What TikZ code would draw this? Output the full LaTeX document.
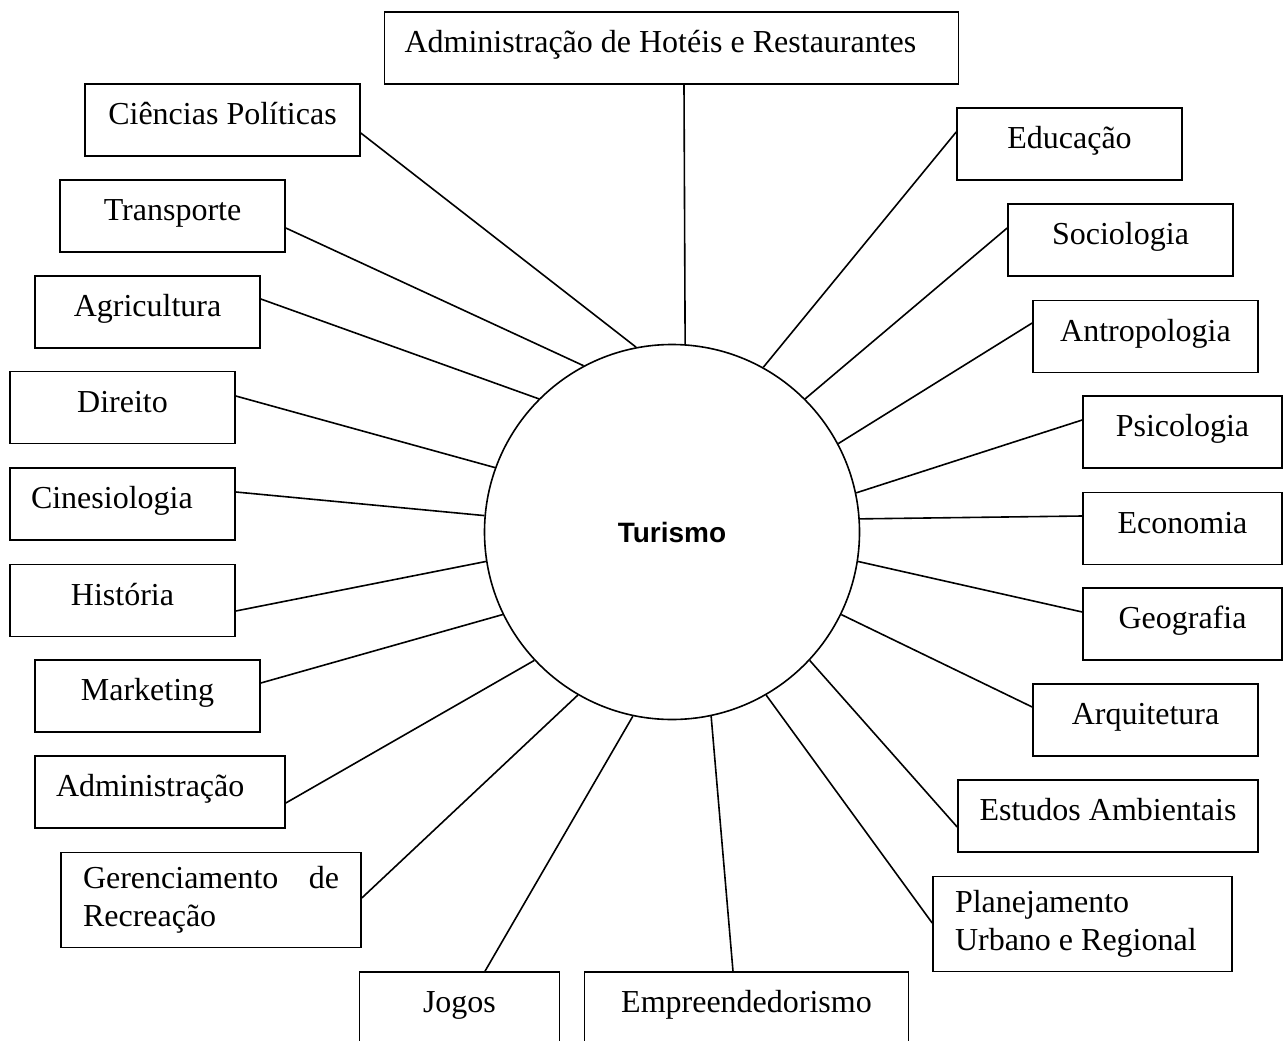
\documentclass[tikz,border=0pt]{standalone}
\usepackage{fontspec}
\setmainfont{Liberation Serif}
\setsansfont{Liberation Sans}

\begin{document}
\begin{tikzpicture}[x=1pt,y=-1pt,line width=1.6pt,
  font=\fontsize{32}{38}\selectfont,
  box/.style={draw,inner sep=0pt,minimum width=#1,minimum height=72pt,
    text height=22pt,text depth=13pt},
  flush/.style={text width=#1,align=flush left},
  twoline/.style={draw,inner sep=0pt,minimum width=#1,minimum height=95pt,
    text width=#1-44pt,align=flush left}]
\clip (0,0) rectangle (1286,1041);

\node[draw,circle,minimum size=375pt,inner sep=0pt,
  font=\sffamily\bfseries\fontsize{28}{32}\selectfont] (tur) at (672,532) {Turismo};

% left side
\node[box=574pt,flush=534pt] (hot) at (671.5,48) {Administração de Hotéis e Restaurantes};
\node[box=275pt] (cp) at (222.5,120) {Ciências Políticas};
\node[box=225pt] (tra) at (172.5,216) {Transporte};
\node[box=225pt] (agr) at (147.5,312) {Agricultura};
\node[box=225pt] (dir) at (122.5,407.5) {Direito};
\node[box=225pt,flush=183pt] (cin) at (122.5,504) {Cinesiologia};
\node[box=225pt] (his) at (122.5,600.5) {História};
\node[box=225pt] (mar) at (147.5,696) {Marketing};
\node[box=250pt,flush=208pt] (adm) at (160,792) {Administração};
\node[twoline=300pt] (ger) at (211,900) {Gerenciamento\hfill de\\Recreação};
\node[box=200pt] (jog) at (459.5,1008) {Jogos};
\node[box=324pt] (emp) at (746.5,1008) {Empreendedorismo};

% right side
\node[box=225pt] (edu) at (1069.5,144) {Educação};
\node[box=225pt] (soc) at (1120.5,240) {Sociologia};
\node[box=225pt] (ant) at (1145.5,336.5) {Antropologia};
\node[box=199pt] (psi) at (1182.5,432) {Psicologia};
\node[box=199pt] (eco) at (1182.5,528.5) {Economia};
\node[box=199pt] (geo) at (1182.5,624) {Geografia};
\node[box=225pt] (arq) at (1145.5,720) {Arquitetura};
\node[box=300pt] (est) at (1108,816) {Estudos Ambientais};
\node[twoline=299pt] (pla) at (1082.5,924) {Planejamento\\Urbano e Regional};

\draw ([xshift=12.5pt]hot.south) -- (tur.86.3);
\draw ([yshift=-13pt]cp.east) -- (tur.101.7);
\draw ([yshift=-12pt]tra.east) -- (tur.118.7);
\draw ([yshift=13pt]agr.east) -- (tur.135);
\draw ([yshift=11.5pt]dir.east) -- (tur.160.9);
\draw ([yshift=12pt]cin.east) -- (tur.175.1);
\draw ([yshift=-10.5pt]his.east) -- (tur.189.5);
\draw ([yshift=13pt]mar.east) -- (tur.206.2);
\draw ([yshift=-11pt]adm.east) -- (tur.223);
\draw ([yshift=2pt]ger.east) -- (tur.240.2);
\draw ([xshift=25.5pt]jog.north) -- (tur.258);
\draw ([xshift=-13.5pt]emp.north) -- (tur.282);
\draw ([yshift=12pt]edu.west) -- (tur.61.3);
\draw ([yshift=12pt]soc.west) -- (tur.45.3);
\draw ([yshift=13.5pt]ant.west) -- (tur.28.7);
\draw ([yshift=12pt]psi.west) -- (tur.12.9);
\draw ([yshift=12.5pt]eco.west) -- (tur.4.6);
\draw ([yshift=12pt]geo.west) -- (tur.-9.5);
\draw ([yshift=13pt]arq.west) -- (tur.-26.2);
\draw ([yshift=-11pt]est.west) -- (tur.-43.4);
\draw ([yshift=1pt]pla.west) -- (tur.-60.2);
\end{tikzpicture}
\end{document}
